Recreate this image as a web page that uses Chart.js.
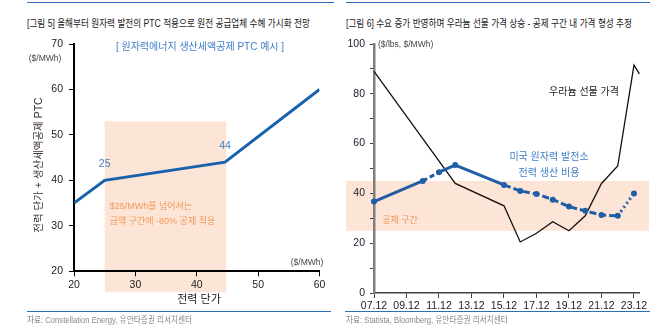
<!DOCTYPE html>
<html lang="ko">
<head>
<meta charset="utf-8">
<script src="https://cdn.jsdelivr.net/npm/chart.js@4.4.0/dist/chart.umd.min.js"></script>
<style>
body { margin:0; width:668px; height:330px; background:#fff; position:relative; overflow:hidden; font-family:'Liberation Sans','Noto Sans CJK KR',sans-serif; }
.rule { position:absolute; height:1px; background:#2f6fba; }
.head { position:absolute; top:16px; font-size:10.5px; line-height:14px; color:#1b1b1b; white-space:nowrap; transform:scaleX(0.82); transform-origin:0 50%; }
.foot { position:absolute; top:314px; font-size:9px; line-height:12px; color:#8a8a8a; white-space:nowrap; transform:scaleX(0.85); transform-origin:0 50%; }
canvas { position:absolute; top:0; }
</style>
</head>
<body>
<div class="rule" style="left:27px; top:2px; width:307px;"></div>
<div class="rule" style="left:346px; top:2px; width:304px;"></div>
<div class="head" style="left:27px;">[그림 5] 올해부터 원자력 발전의 PTC 적용으로 원전 공급업체 수혜 가시화 전망</div>
<div class="head" style="left:346px;">[그림 6] 수요 증가 반영하며 우라늄 선물 가격 상승 - 공제 구간 내 가격 형성 추정</div>

<canvas id="grafikPtc" width="334" height="330" style="left:0;"></canvas>
<canvas id="grafikUranium" width="334" height="330" style="left:334px;"></canvas>

<div class="rule" style="left:27px; top:311px; width:304px;"></div>
<div class="rule" style="left:345px; top:311px; width:305px;"></div>
<div class="foot" style="left:27px;">자료: Constellation Energy, 유안타증권 리서치센터</div>
<div class="foot" style="left:346px;">자료: Statista, Bloomberg, 유안타증권 리서치센터</div>

<script>
const FONT = "'Liberation Sans','Noto Sans CJK KR',sans-serif";

// [그림 5] 전력 단가 -> 전력 단가 + PTC
const ptcPrice = [20, 25, 44.6, 60];
const ptcTotal = [35, 40, 44, 60];
const ptcPointLabels = ['', '25', '44', ''];
const ptcZone = [25, 44.8];   // 공제 구간 (전력 단가)
const ptcZoneTop = 53;

// [그림 6] 우라늄 선물 가격 / 원전 발전 비용
const uraniumDates = ['07.12', '10.12', '12.12', '15.12', '16.12', '17.12', '18.12', '19.12', '20.12', '21.12', '22.12', '23.12', '24.04'];
const uraniumPrice = [89, 62, 44, 35, 20.5, 24, 28.6, 25, 31, 44, 51, 91.5, 88];
const nuclearDates = ['07.12', '10.12', '11.12', '12.12', '15.12', '16.12', '17.12', '18.12', '19.12', '20.12', '21.12', '22.12', '23.12'];
const nuclearCost = [36.7, 45, 48.5, 51.4, 43.4, 41, 39.8, 37.5, 34.7, 33, 31.3, 31, 40];
const dateTicks = ['07.12', '09.12', '11.12', '13.12', '15.12', '17.12', '19.12', '21.12', '23.12'];
const creditBand = [25, 45];

// 선 스타일 (구간별)
const nuclearDash = [[], [5, 3], [], [], [7, 3], [7, 3], [7, 3], [7, 3], [7, 3], [7, 3], [7, 3], [2, 3]];

// 'YY.MM' -> 07.12 기준 경과 연수
function keYear(s) {
    const [yy, mm] = s.split('.').map(Number);
    return (yy - 7) + (mm - 12) / 12;
}

function tulis(ctx, s, x, y, font, color, align, rot) {
    ctx.save();
    ctx.font = font;
    ctx.fillStyle = color;
    ctx.textAlign = align || 'center';
    ctx.textBaseline = 'middle';
    ctx.translate(x, y);
    if (rot) ctx.rotate(rot);
    ctx.fillText(s, 0, 0);
    ctx.restore();
}

const ORANGE = '#f19a5c';
const BLUE_TEXT = '#3f7fc6';

const ptcDeco = {
    id: 'ptcDeco',
    beforeDraw(chart) {
        const { ctx, chartArea } = chart;
        const { x, y } = chart.scales;
        const x0 = x.getPixelForValue(ptcZone[0]);
        const x1 = x.getPixelForValue(ptcZone[1]);
        const yt = y.getPixelForValue(ptcZoneTop);
        ctx.save();
        ctx.fillStyle = '#fce4d6';
        ctx.fillRect(x0, yt, x1 - x0, chartArea.bottom + 21 - yt);
        ctx.restore();
    },
    afterDraw(chart) {
        const { ctx } = chart;
        const { x, y } = chart.scales;
        tulis(ctx, '[ 원자력에너지 생산세액공제 PTC 예시 ]', 200, 47, `10px ${FONT}`, BLUE_TEXT);
        tulis(ctx, '($/MWh)', 45, 59, `8.5px ${FONT}`, '#444');
        tulis(ctx, '($/MWh)', 307, 263, `8.5px ${FONT}`, '#444');
        tulis(ctx, '전력 단가 + 생산세액공제 PTC', 39, 165, `10.5px ${FONT}`, '#3a2e2a', 'center', -Math.PI / 2);
        tulis(ctx, '전력 단가', 199, 300, `11px ${FONT}`, '#222');
        const tx = x.getPixelForValue(ptcZone[0]) + 5;
        tulis(ctx, '$25/MWh를 넘어서는', tx, 207, `9px ${FONT}`, ORANGE, 'left');
        tulis(ctx, '금액 구간에 -80% 공제 적용', tx, 222, `9px ${FONT}`, ORANGE, 'left');
        ptcPointLabels.forEach((lb, i) => {
            if (!lb) return;
            tulis(ctx, lb, x.getPixelForValue(ptcPrice[i]), y.getPixelForValue(ptcTotal[i]) - 16, `10.5px ${FONT}`, BLUE_TEXT);
        });
    }
};

const uraniumDeco = {
    id: 'uraniumDeco',
    beforeDraw(chart) {
        const { ctx } = chart;
        const { y } = chart.scales;
        const yt = y.getPixelForValue(creditBand[1]);
        const yb = y.getPixelForValue(creditBand[0]);
        ctx.save();
        ctx.fillStyle = '#fce4d6';
        ctx.fillRect(12, yt, 303, yb - yt);
        ctx.restore();
    },
    afterDraw(chart) {
        const { ctx } = chart;
        tulis(ctx, '($/lbs, $/MWh)', 44, 45, `8.5px ${FONT}`, '#444', 'left');
        tulis(ctx, '우라늄 선물 가격', 250, 92, `10px ${FONT}`, '#222');
        tulis(ctx, '미국 원자력 발전소', 215, 157, `10px ${FONT}`, BLUE_TEXT);
        tulis(ctx, '전력 생산 비용', 215, 173, `10px ${FONT}`, BLUE_TEXT);
        tulis(ctx, '공제 구간', 66, 221, `9px ${FONT}`, ORANGE);
    }
};

new Chart(document.getElementById('grafikPtc'), {
    type: 'line',
    data: {
        datasets: [{
            data: ptcPrice.map((v, i) => ({ x: v, y: ptcTotal[i] })),
            borderColor: '#1862ad',
            borderWidth: 3,
            pointRadius: 0,
            tension: 0
        }]
    },
    options: {
        responsive: false,
        animation: false,
        layout: { padding: { left: 0, right: 14.5, top: 44, bottom: 0 } },
        plugins: { legend: { display: false }, tooltip: { enabled: false } },
        scales: {
            x: {
                type: 'linear', min: 20, max: 60,
                ticks: { stepSize: 10, color: '#222', font: { family: FONT, size: 10.5 }, padding: 3 },
                grid: { drawOnChartArea: false, tickLength: 5, color: '#000' },
                border: { color: '#000', width: 2 },
                afterFit: s => { s.height = 58.7; }
            },
            y: {
                min: 20, max: 70,
                ticks: { stepSize: 10, color: '#222', font: { family: FONT, size: 10.5 }, padding: 6 },
                grid: { drawOnChartArea: false, tickLength: 5, color: '#000' },
                border: { color: '#000', width: 2 },
                afterFit: s => { s.width = 74; }
            }
        }
    },
    plugins: [ptcDeco]
});

new Chart(document.getElementById('grafikUranium'), {
    type: 'line',
    data: {
        datasets: [{
            data: nuclearDates.map((d, i) => ({ x: keYear(d), y: nuclearCost[i] })),
            borderColor: '#1f5ea6',
            borderWidth: 3,
            pointRadius: 3,
            pointBackgroundColor: '#1f5ea6',
            pointBorderWidth: 0,
            tension: 0,
            clip: false,
            segment: { borderDash: c => nuclearDash[c.p0DataIndex] }
        }, {
            data: uraniumDates.map((d, i) => ({ x: keYear(d), y: uraniumPrice[i] })),
            borderColor: '#111',
            borderWidth: 1.3,
            pointRadius: 0,
            tension: 0,
            clip: false
        }]
    },
    options: {
        responsive: false,
        animation: false,
        layout: { padding: { left: 0, right: 28.6, top: 44, bottom: 0 } },
        plugins: { legend: { display: false }, tooltip: { enabled: false } },
        scales: {
            x: {
                type: 'linear', min: 0, max: keYear('24.04'),
                afterBuildTicks: s => { s.ticks = dateTicks.map(d => ({ value: keYear(d) })); },
                ticks: {
                    color: '#1a1a2a', font: { family: FONT, size: 10.5 }, padding: 2, maxRotation: 0, autoSkip: false,
                    callback: v => dateTicks.find(d => Math.abs(keYear(d) - v) < 0.01) || ''
                },
                grid: { drawOnChartArea: false, tickLength: 5, color: '#404040' },
                border: { color: '#404040', width: 1.5 },
                afterFit: s => { s.height = 37; }
            },
            y: {
                min: 0, max: 100,
                ticks: {
                    stepSize: 10, color: '#1a1a2a', font: { family: FONT, size: 10.5 }, padding: 5,
                    callback: v => (v % 20 === 0 ? v : '')
                },
                grid: { drawOnChartArea: false, tickLength: 4, color: '#404040' },
                border: { color: '#7f7f7f', width: 2.5 },
                afterFit: s => { s.width = 40; }
            }
        }
    },
    plugins: [uraniumDeco]
});
</script>
</body>
</html>
